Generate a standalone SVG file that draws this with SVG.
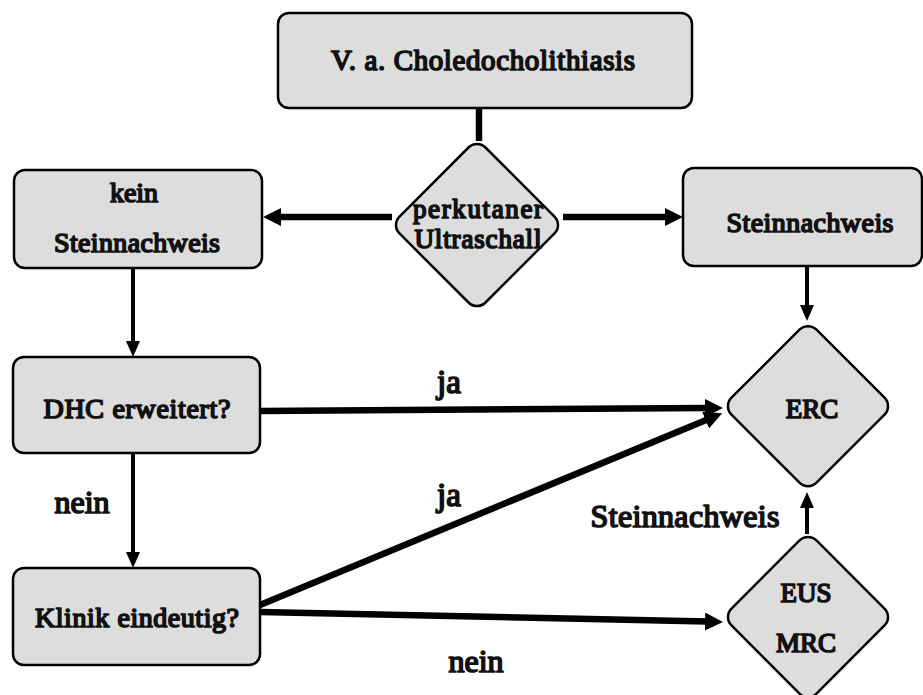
<svg xmlns="http://www.w3.org/2000/svg" width="923" height="695" viewBox="0 0 923 695">
<style>
.node{fill:#dddddd;stroke:#000;stroke-width:2.5}
text{font-family:'Liberation Serif','Times New Roman',serif;font-weight:400;fill:#111;stroke:#111;stroke-width:1.7;stroke-linejoin:round;text-anchor:middle}
.thick{stroke:#000;stroke-width:6.5;fill:none}
.thin{stroke:#000;stroke-width:4;fill:none}
</style>
<defs>
<marker id="ah" markerUnits="userSpaceOnUse" markerWidth="18" markerHeight="18" viewBox="0 0 18 18" refX="2" refY="9" orient="auto">
<path d="M0,0 L18,9 L0,18 z" fill="#000"/>
</marker>
<marker id="ahs" markerUnits="userSpaceOnUse" markerWidth="16" markerHeight="14" viewBox="0 0 16 14" refX="2" refY="7" orient="auto">
<path d="M0,0 L16,7 L0,14 z" fill="#000"/>
</marker>
</defs>
<rect width="923" height="695" fill="#fff"/>
<g id="connectors">
<line class="thick" x1="479" y1="108" x2="479" y2="141"/>
<line class="thick" x1="392" y1="217" x2="279" y2="217" marker-end="url(#ah)"/>
<line class="thick" x1="563" y1="217" x2="667" y2="217" marker-end="url(#ah)"/>
<line class="thin" x1="807" y1="266" x2="807" y2="307" marker-end="url(#ahs)"/>
<line class="thin" x1="133" y1="268" x2="133" y2="343" marker-end="url(#ahs)"/>
<line class="thin" x1="133" y1="453" x2="133" y2="554" marker-end="url(#ahs)"/>
<line class="thin" x1="807" y1="534" x2="807" y2="506" marker-end="url(#ahs)"/>
<line class="thick" x1="260" y1="411" x2="707" y2="408" marker-end="url(#ah)"/>
<line class="thick" x1="260" y1="605" x2="707.4" y2="419.4" marker-end="url(#ah)"/>
<line class="thick" x1="260" y1="612" x2="707" y2="621.6" marker-end="url(#ah)"/>
</g>
<g id="n-top">
<rect class="node" x="278" y="13" width="414" height="95" rx="11"/>
<text x="483" y="70" font-size="29" textLength="304" lengthAdjust="spacing">V. a. Choledocholithiasis</text>
</g>
<g id="n-us">
<rect class="node" x="416.2" y="164.2" width="121.6" height="121.6" rx="12" transform="rotate(45 477 225)"/>
<text x="478" y="218" font-size="27" textLength="130" lengthAdjust="spacing">perkutaner</text>
<text x="478" y="248" font-size="27" textLength="127" lengthAdjust="spacing">Ultraschall</text>
</g>
<g id="n-kein">
<rect class="node" x="14" y="170" width="248" height="98" rx="11"/>
<text x="134" y="202" font-size="28">kein</text>
<text x="137" y="252" font-size="28" textLength="166" lengthAdjust="spacing">Steinnachweis</text>
</g>
<g id="n-stein">
<rect class="node" x="683" y="168" width="239" height="98" rx="11"/>
<text x="810" y="232" font-size="28" textLength="167" lengthAdjust="spacing">Steinnachweis</text>
</g>
<g id="n-dhc">
<rect class="node" x="13" y="357" width="247" height="96" rx="11"/>
<text x="137" y="418" font-size="28" textLength="187" lengthAdjust="spacing">DHC erweitert?</text>
</g>
<g id="n-klinik">
<rect class="node" x="13" y="568" width="247" height="97" rx="11"/>
<text x="137" y="627" font-size="28" textLength="204" lengthAdjust="spacing">Klinik eindeutig?</text>
</g>
<g id="n-erc">
<rect class="node" x="747.9" y="346.1" width="120.2" height="120.2" rx="12" transform="rotate(45 808 406.2)"/>
<text x="812" y="418" font-size="27">ERC</text>
</g>
<g id="n-eus">
<rect class="node" x="747.9" y="556.9" width="120.2" height="120.2" rx="12" transform="rotate(45 808 617)"/>
<text x="806" y="602" font-size="27">EUS</text>
<text x="806" y="652" font-size="27">MRC</text>
</g>
<g id="labels">
<text x="449" y="393" font-size="33">ja</text>
<text x="449" y="506" font-size="33">ja</text>
<text x="82" y="513" font-size="32">nein</text>
<text x="476" y="672" font-size="32">nein</text>
<text x="685" y="527" font-size="32" textLength="189" lengthAdjust="spacing">Steinnachweis</text>
</g>
</svg>
